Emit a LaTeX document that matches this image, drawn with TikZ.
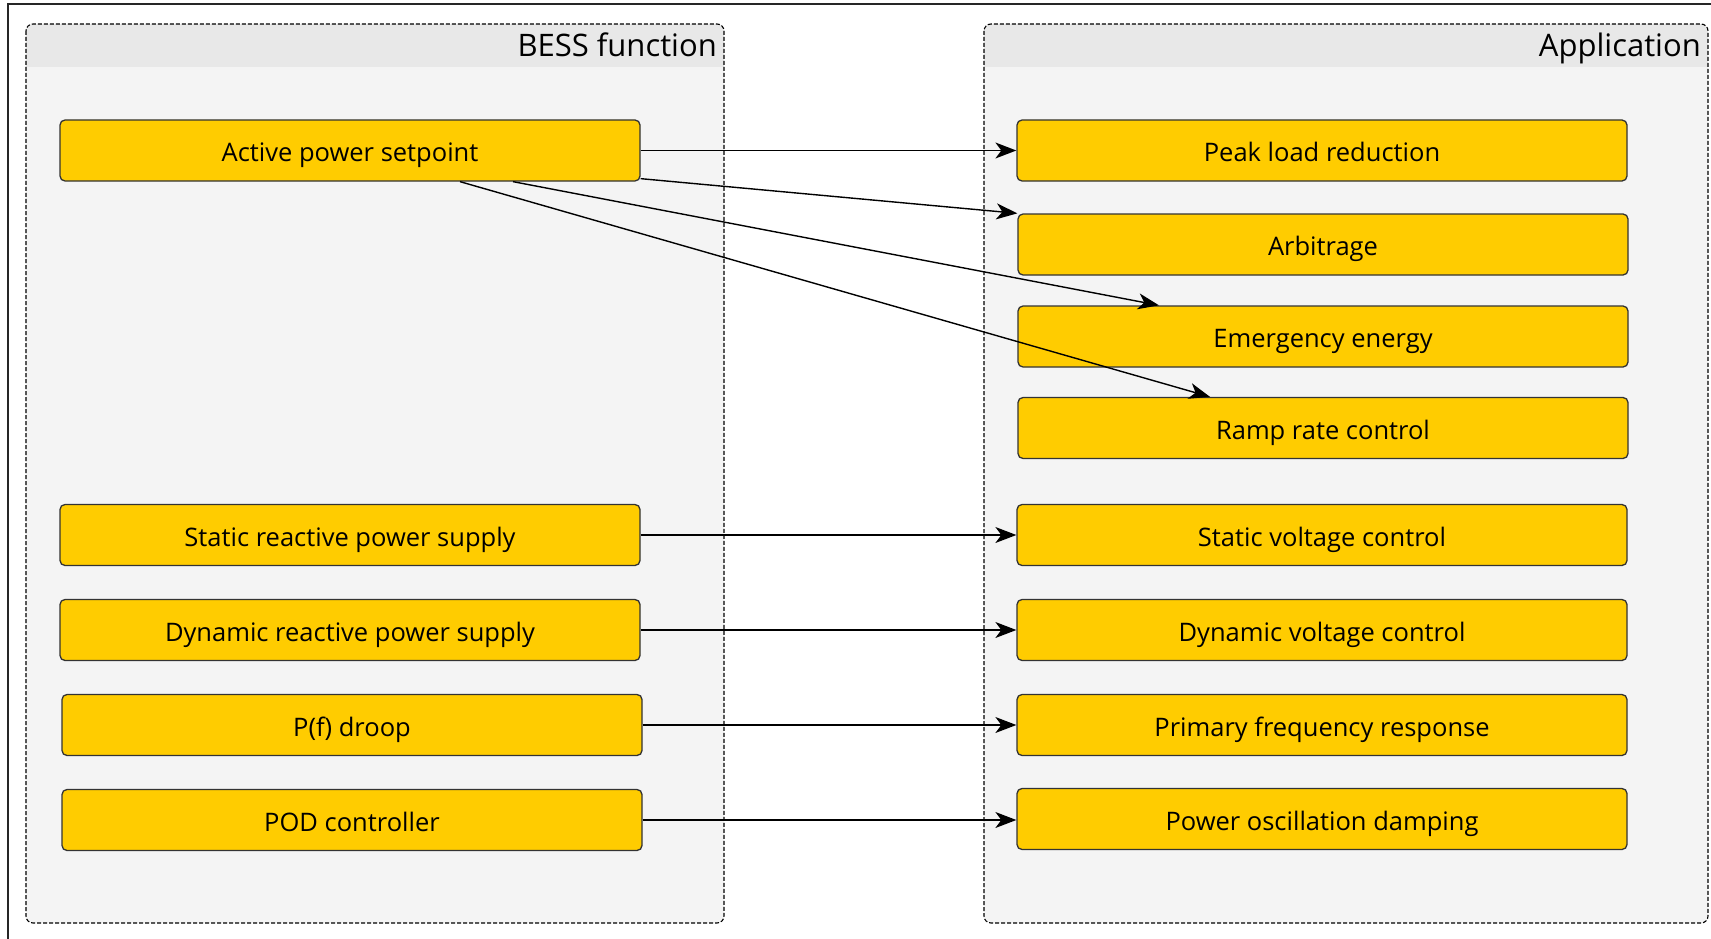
\documentclass[tikz,border=0pt]{standalone}
\usepackage{fontspec}
\setmainfont{Open Sans}
\usetikzlibrary{arrows.meta}
\definecolor{boxfill}{HTML}{FFCC00}
\definecolor{bodyfill}{HTML}{F4F4F4}
\definecolor{headfill}{HTML}{E8E8E8}
\definecolor{edge}{HTML}{333333}
\begin{document}
\begin{tikzpicture}[x=1pt,y=-1pt,
  fbox/.style={draw=edge, fill=boxfill, rounded corners=5pt, line width=1.3pt, inner sep=0pt,
    minimum height=61pt, text height=22pt, text depth=0pt, font=\fontsize{25.5}{30}\selectfont},
  lbox/.style={fbox, minimum width=580pt},
  rbox/.style={fbox, minimum width=610pt},
  conn/.style={line width=1.4pt, draw=black, -{Stealth[length=21pt,width=16pt,inset=6pt]}},
  panelline/.style={draw=black, dash pattern=on 4pt off 2pt, line width=1.1pt, rounded corners=7pt},
  headtext/.style={anchor=base east, font=\fontsize{31}{36}\selectfont, inner sep=0pt},
]
\useasboundingbox (0,0) rectangle (1711,939);
\fill[white] (0,0) rectangle (1711,939);
\draw[line width=1.5pt, black!85] (8,939) -- (8,4) -- (1711,4);

% left panel
\begin{scope}
  \clip[rounded corners=7pt] (26,24) rectangle (724,923);
  \fill[bodyfill] (26,24) rectangle (724,923);
  \fill[headfill] (26,24) rectangle (724,67);
\end{scope}
\draw[panelline] (26,24) rectangle (724,923);
\node[headtext] (tl) at (717,57) {BESS function};

% right panel
\begin{scope}
  \clip[rounded corners=7pt] (984,24) rectangle (1708,923);
  \fill[bodyfill] (984,24) rectangle (1708,923);
  \fill[headfill] (984,24) rectangle (1708,67);
\end{scope}
\draw[panelline] (984,24) rectangle (1708,923);
\node[headtext] (tr) at (1701,57) {Application};

% left boxes
\node[lbox] (a1) at (350,150.5) {Active power setpoint};
\node[lbox] (a2) at (350,535) {Static reactive power supply};
\node[lbox] (a3) at (350,630) {Dynamic reactive power supply};
\node[lbox] (a4) at (352,725) {P(f) droop};
\node[lbox] (a5) at (352,820) {POD controller};

% right boxes
\node[rbox] (r1) at (1322,150.5) {Peak load reduction};
\node[rbox] (r2) at (1323,244.5) {Arbitrage};
\node[rbox] (r3) at (1323,336.5) {Emergency energy};
\node[rbox] (r4) at (1323,428) {Ramp rate control};
\node[rbox] (r5) at (1322,535) {Static voltage control};
\node[rbox] (r6) at (1322,630) {Dynamic voltage control};
\node[rbox] (r7) at (1322,725) {Primary frequency response};
\node[rbox] (r8) at (1322,819) {Power oscillation damping};

% connectors
\draw[conn] (a1.east) -- (r1.west);
\draw[conn] ([yshift=3pt]a1.south east) -- (r2.north west);
\draw[conn] ([xshift=163pt]a1.south) -- ([xshift=-164pt]r3.north);
\draw[conn] ([xshift=110pt]a1.south) -- ([xshift=-113pt]r4.north);
\draw[conn] (a2.east) -- (r5.west);
\draw[conn] (a3.east) -- (r6.west);
\draw[conn] (a4.east) -- (r7.west);
\draw[conn] (a5.east) -- (a5.east -| r8.west);
\end{tikzpicture}
\end{document}
